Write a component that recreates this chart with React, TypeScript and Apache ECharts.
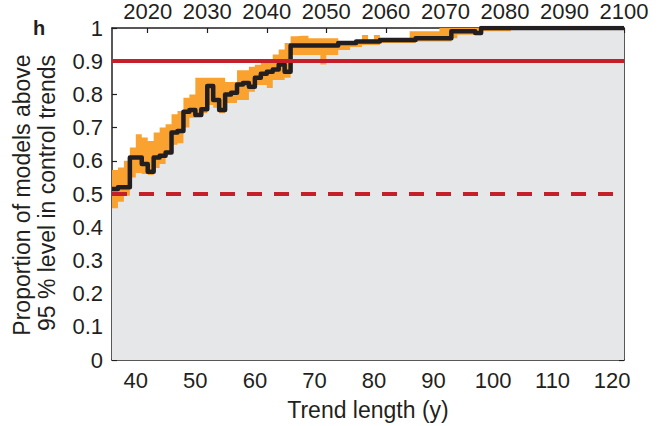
import React, { useEffect, useRef } from "react";
import * as echarts from "echarts";

// Trend length axis range (years)
const trendLengthStart = 36;
const trendLengthEnd = 122;
// Top axis: end year corresponding to trend length
const yearAtStart = 2014;
const yearAtEnd = 2100;

// Median proportion (black stairs), one value per trend length 36..122
const median = [
  0.515, 0.52, 0.52, 0.61, 0.61, 0.59, 0.567, 0.61, 0.615, 0.625,
  0.685, 0.69, 0.748, 0.753, 0.738, 0.755, 0.825, 0.783, 0.753, 0.8,
  0.805, 0.83, 0.834, 0.823, 0.85, 0.862, 0.868, 0.875, 0.89, 0.868,
  0.947, 0.947, 0.947, 0.947, 0.947, 0.947, 0.947, 0.947, 0.955, 0.955,
  0.955, 0.959, 0.959, 0.959, 0.959, 0.964, 0.964, 0.964, 0.964, 0.964,
  0.964, 0.969, 0.969, 0.969, 0.969, 0.969, 0.969, 0.99, 0.99, 0.99,
  0.99, 0.985, 1, 1, 1, 1, 1, 1, 1, 1,
  1, 1, 1, 1, 1, 1, 1, 1, 1, 1,
  1, 1, 1, 1, 1, 1, 1,
];

// Upper bound of orange range
const upper = [
  0.572, 0.58, 0.6, 0.64, 0.68, 0.67, 0.66, 0.685, 0.7, 0.71,
  0.74, 0.75, 0.79, 0.8, 0.85, 0.85, 0.85, 0.85, 0.85, 0.837,
  0.837, 0.873, 0.873, 0.883, 0.889, 0.895, 0.905, 0.92, 0.935, 0.955,
  0.975, 0.977, 0.977, 0.969, 0.969, 0.969, 0.969, 0.969, 0.955, 0.955,
  0.955, 0.959, 0.979, 0.965, 0.979, 0.964, 0.964, 0.964, 0.964, 0.964,
  0.99, 0.99, 0.99, 0.99, 0.99, 1, 1, 1, 1, 1,
  1, 1, 1, 1, 1, 1, 1, 1, 1, 1,
  1, 1, 1, 1, 1, 1, 1, 1, 1, 1,
  1, 1, 1, 1, 1, 1, 1,
];

// Lower bound of orange range (grey area below)
const lower = [
  0.457, 0.477, 0.495, 0.55, 0.563, 0.56, 0.557, 0.578, 0.59, 0.62,
  0.648, 0.653, 0.7, 0.73, 0.735, 0.743, 0.768, 0.76, 0.743, 0.774,
  0.774, 0.783, 0.783, 0.808, 0.828, 0.828, 0.819, 0.843, 0.843, 0.85,
  0.919, 0.919, 0.919, 0.919, 0.919, 0.89, 0.919, 0.919, 0.934, 0.934,
  0.943, 0.943, 0.949, 0.949, 0.949, 0.955, 0.955, 0.955, 0.955, 0.955,
  0.955, 0.959, 0.959, 0.959, 0.959, 0.959, 0.959, 0.969, 0.98, 0.98,
  0.98, 0.98, 0.99, 0.99, 0.99, 0.99, 0.99, 1, 1, 1,
  1, 1, 1, 1, 1, 1, 1, 1, 1, 1,
  1, 1, 1, 1, 1, 1, 1,
];

const bottomTicks = [40, 50, 60, 70, 80, 90, 100, 110, 120];
const topTicks = [2020, 2030, 2040, 2050, 2060, 2070, 2080, 2090, 2100];
const solidThreshold = 0.9;
const dashedThreshold = 0.5;

const yTitle1 = "Proportion of models above";
const yTitle2 = "95 % level in control trends";
const xTitle = "Trend length (y)";
const panelLabel = "h";

const FONT = "'Liberation Sans', Arial, Helvetica, sans-serif";
const INK = "#231f20";
const ORANGE = "#f9a230";
const GREY = "#e6e7e8";
const RED = "#c5202a";

const toPairs = (vals: number[]) => vals.map((v, i) => [trendLengthStart + i, v]);

export default function App() {
  const ref = useRef<HTMLDivElement>(null);
  useEffect(() => {
    document.body.style.margin = "0";
    if (!ref.current) return;
    const chart = echarts.init(ref.current, null, { renderer: "svg" });
    const axisLine = { show: true, onZero: false, lineStyle: { color: INK, width: 1.5 } };
    const tickStyle = { color: INK, width: 1.2 };
    const option: any = {
      animation: false,
      backgroundColor: "#ffffff",
      textStyle: { fontFamily: FONT },
      grid: { left: 112, right: 38, top: 28, bottom: 66, containLabel: false },
      xAxis: [
        {
          type: "value",
          position: "bottom",
          min: trendLengthStart,
          max: trendLengthEnd,
          axisLine,
          axisTick: { show: true, inside: true, length: 5, customValues: bottomTicks, lineStyle: tickStyle },
          axisLabel: {
            customValues: bottomTicks,
            fontSize: 22,
            color: INK,
            margin: 9,
            fontFamily: FONT,
            formatter: (v: number) => String(v),
          },
          splitLine: { show: false },
        },
        {
          type: "value",
          position: "top",
          min: yearAtStart,
          max: yearAtEnd,
          axisLine,
          axisTick: { show: true, inside: true, length: 5, customValues: topTicks, lineStyle: tickStyle },
          axisLabel: {
            customValues: topTicks,
            fontSize: 22,
            color: INK,
            margin: 6,
            fontFamily: FONT,
            formatter: (v: number) => String(v),
          },
          splitLine: { show: false },
        },
      ],
      yAxis: [
        {
          type: "value",
          position: "left",
          min: 0,
          max: 1,
          interval: 0.1,
          axisLine,
          axisTick: { show: true, inside: true, length: 5, lineStyle: tickStyle },
          axisLabel: {
            fontSize: 22,
            color: INK,
            margin: 9,
            fontFamily: FONT,
            formatter: (v: number) => String(Math.round(v * 10) / 10),
          },
          splitLine: { show: false },
        },
        {
          type: "value",
          position: "right",
          min: 0,
          max: 1,
          interval: 0.1,
          axisLine,
          axisTick: { show: true, inside: true, length: 5, lineStyle: tickStyle },
          axisLabel: { show: false },
          splitLine: { show: false },
        },
      ],
      series: [
        {
          type: "line",
          name: "upper",
          data: toPairs(upper),
          step: "end",
          showSymbol: false,
          silent: true,
          lineStyle: { width: 0, opacity: 0 },
          areaStyle: { color: ORANGE, opacity: 1, origin: "start" },
        },
        {
          type: "line",
          name: "lower",
          data: toPairs(lower),
          step: "end",
          showSymbol: false,
          silent: true,
          lineStyle: { width: 0, opacity: 0 },
          areaStyle: { color: GREY, opacity: 1, origin: "start" },
          markLine: {
            silent: true,
            symbol: "none",
            label: { show: false },
            animation: false,
            data: [
              { yAxis: solidThreshold, lineStyle: { color: RED, width: 4, type: "solid" } },
              { yAxis: dashedThreshold, lineStyle: { color: RED, width: 4, type: [15, 12] } },
            ],
          },
        },
        {
          type: "line",
          name: "median",
          data: toPairs(median),
          step: "end",
          showSymbol: false,
          silent: true,
          lineStyle: { color: INK, width: 4.5, join: "round", cap: "butt" },
        },
      ],
      graphic: [
        {
          type: "text",
          x: 39,
          y: 28,
          style: {
            text: panelLabel,
            fontSize: 20,
            fontWeight: "bold",
            fontFamily: FONT,
            fill: INK,
            align: "center",
            verticalAlign: "middle",
          },
        },
        {
          type: "text",
          x: 22,
          y: 195,
          rotation: Math.PI / 2,
          style: {
            text: yTitle1,
            fontSize: 23,
            fontFamily: FONT,
            fill: INK,
            align: "center",
            verticalAlign: "middle",
          },
        },
        {
          type: "text",
          x: 47,
          y: 193,
          rotation: Math.PI / 2,
          style: {
            text: yTitle2,
            fontSize: 23,
            fontFamily: FONT,
            fill: INK,
            align: "center",
            verticalAlign: "middle",
          },
        },
        {
          type: "text",
          x: 368,
          y: 410,
          style: {
            text: xTitle,
            fontSize: 23,
            fontFamily: FONT,
            fill: INK,
            align: "center",
            verticalAlign: "middle",
          },
        },
      ],
    };
    chart.setOption(option);
    return () => chart.dispose();
  }, []);
  return <div ref={ref} style={{ width: 662, height: 426 }} />;
}
